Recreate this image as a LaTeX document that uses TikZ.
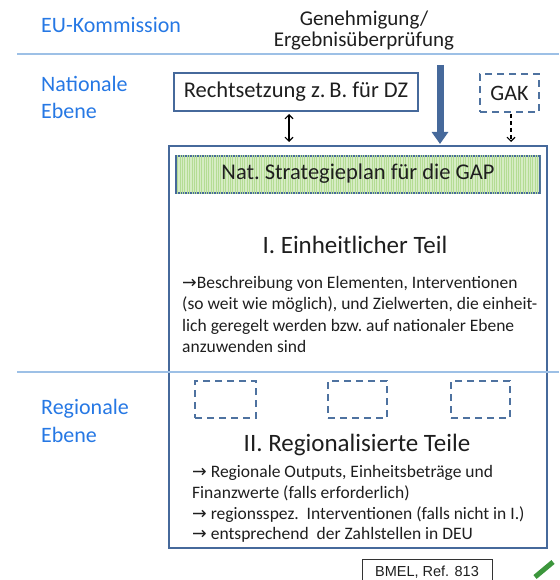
\documentclass[tikz,border=0pt]{standalone}
\usepackage{fontspec}
\setmainfont{Carlito}
\newfontfamily\arrowfont{DejaVu Sans}
\newfontfamily\arialfont{Liberation Sans}
\usetikzlibrary{arrows.meta,patterns.meta}
\definecolor{lvlblue}{RGB}{38,120,228}
\definecolor{sepline}{RGB}{157,192,230}
\definecolor{boxblue}{RGB}{70,105,155}
\definecolor{dashblue}{RGB}{78,114,160}
\definecolor{greenfill}{RGB}{214,236,196}
\definecolor{greenstripe}{RGB}{180,220,148}
\definecolor{txt}{RGB}{30,30,30}
\definecolor{tick}{RGB}{60,150,60}
\newcommand{\fsz}[1]{\fontsize{#1}{1.2\dimexpr#1pt\relax}\selectfont\frenchspacing}
\newcommand{\arr}{{\arrowfont →}}
\tikzset{
  lvl/.style={anchor=base west, inner sep=0pt, text=lvlblue, font=\fsz{22}},
  solidbox/.style={draw=boxblue, line width=2pt, inner sep=0pt},
  dashbox/.style={draw=dashblue, line width=2pt, dash pattern=on 7pt off 5pt, inner sep=0pt},
  bodyline/.style={anchor=base west, inner sep=0pt, text=txt},
  sep/.style={draw=sepline, line width=1.1pt},
}
\begin{document}
\begin{tikzpicture}[x=1pt,y=-1pt]
\useasboundingbox (0,0) rectangle (559,580);
% level labels
\node[lvl] (eu) at (41,32.5) {EU-Kommission};
\node[lvl] (nat1) at (41,91.5) {Nationale};
\node[lvl] (nat2) at (41,119) {Ebene};
\node[lvl] (reg1) at (41,414) {Regionale};
\node[lvl] (reg2) at (41,442) {Ebene};
% separator lines
\coordinate (s1a) at (17,54); \coordinate (s1b) at (559,54);
\coordinate (s2a) at (17,372); \coordinate (s2b) at (559,372);
% top text
\node[anchor=base, inner sep=0pt, text=txt, font=\fsz{21}] (gen1) at (364,26) {Genehmigung/};
\node[anchor=base, inner sep=0pt, text=txt, font=\fsz{21}] (gen2) at (364,47) {Ergebnisüberprüfung};
% boxes
\node[solidbox, minimum width=244pt, minimum height=38pt, text=txt, font=\fsz{22.5}] (rech) at (296,92) {Rechtsetzung z.\,B. für DZ};
\node[dashbox, minimum width=59pt, minimum height=38pt, text=txt, font=\fsz{22}] (gak) at (509.5,93) {GAK};
\node[solidbox, minimum width=378pt, minimum height=402pt] (big) at (358,347) {};
\node[draw=boxblue, line width=1.6pt, fill=greenfill,
  postaction={pattern={Lines[angle=90,distance=2.4pt,line width=0.8pt]}, pattern color=greenstripe},
  minimum width=364pt, minimum height=37pt, inner sep=0pt] (green) at (358,174.5) {};
\node[text=txt, font=\fsz{22.5}, inner sep=0pt] (greentxt) at (358,174) {Nat. Strategieplan für die GAP};
\node[dashbox, minimum width=61pt, minimum height=37pt] (r1) at (225.5,399.5) {};
\node[dashbox, minimum width=59pt, minimum height=37pt] (r2) at (357.5,399.5) {};
\node[dashbox, minimum width=59pt, minimum height=37pt] (r3) at (480.5,399.5) {};
% titles
\node[anchor=base, inner sep=0pt, text=txt, font=\fsz{25}] (t1) at (355,253) {I. Einheitlicher Teil};
\node[anchor=base, inner sep=0pt, text=txt, font=\fsz{25}] (t2) at (357,451) {II. Regionalisierte Teile};
% body I
\node[bodyline, font=\fsz{17.5}] (a1) at (182,288) {\arr Beschreibung von Elementen, Interventionen};
\node[bodyline, font=\fsz{17.5}] (a2) at (182,309.5) {(so weit wie möglich), und Zielwerten, die einheit-};
\node[bodyline, font=\fsz{17.5}] (a3) at (182,331) {lich geregelt werden bzw. auf nationaler Ebene};
\node[bodyline, font=\fsz{17.5}] (a4) at (182,352.5) {anzuwenden sind};
% body II
\node[bodyline, font=\fsz{17.5}] (b1) at (192,477) {\arr\ Regionale Outputs, Einheitsbeträge und};
\node[bodyline, font=\fsz{17.5}] (b2) at (192,498) {Finanzwerte (falls erforderlich)};
\node[bodyline, font=\fsz{17.5}] (b3) at (192,519) {\arr\ regionsspez.\ \ Interventionen (falls nicht in I.)};
\node[bodyline, font=\fsz{17.5}] (b4) at (192,539.5) {\arr\ entsprechend\ \ der Zahlstellen in DEU};
% separators
\draw[sep] (s1a) -- (s1b);
\draw[sep] (s2a) -- (s2b);
% connectors
\coordinate (thtop) at (440,65);
\draw[draw=boxblue, line width=7pt, -{Triangle[width=16pt,length=12pt]}, shorten >=1pt] (thtop) -- (thtop |- big.north);
\draw[line width=1.1pt, {Straight Barb[length=4pt,width=8pt]}-{Straight Barb[length=4pt,width=8pt]}, shorten <=2pt, shorten >=3pt]
  ([xshift=-7pt]rech.south) -- ([xshift=-7pt]rech.south |- big.north);
\draw[line width=1.1pt, dashed, dash pattern=on 4pt off 3pt, -{Straight Barb[length=4pt,width=8pt]}, shorten <=1pt, shorten >=3pt]
  ([xshift=1.5pt]gak.south) -- ([xshift=1.5pt]gak.south |- big.north);
% footer
\node[draw=black!80, line width=1pt, minimum width=130pt, minimum height=26pt, inner sep=0pt, font=\arialfont\fontsize{14.5}{16}\selectfont, text=txt] (bmel) at (427,572) {BMEL, Ref. 813};
\coordinate (ck1) at (535,577); \coordinate (ck2) at (553,562);
\draw[tick, line width=5pt] (ck1) -- (ck2);
\end{tikzpicture}
\end{document}
